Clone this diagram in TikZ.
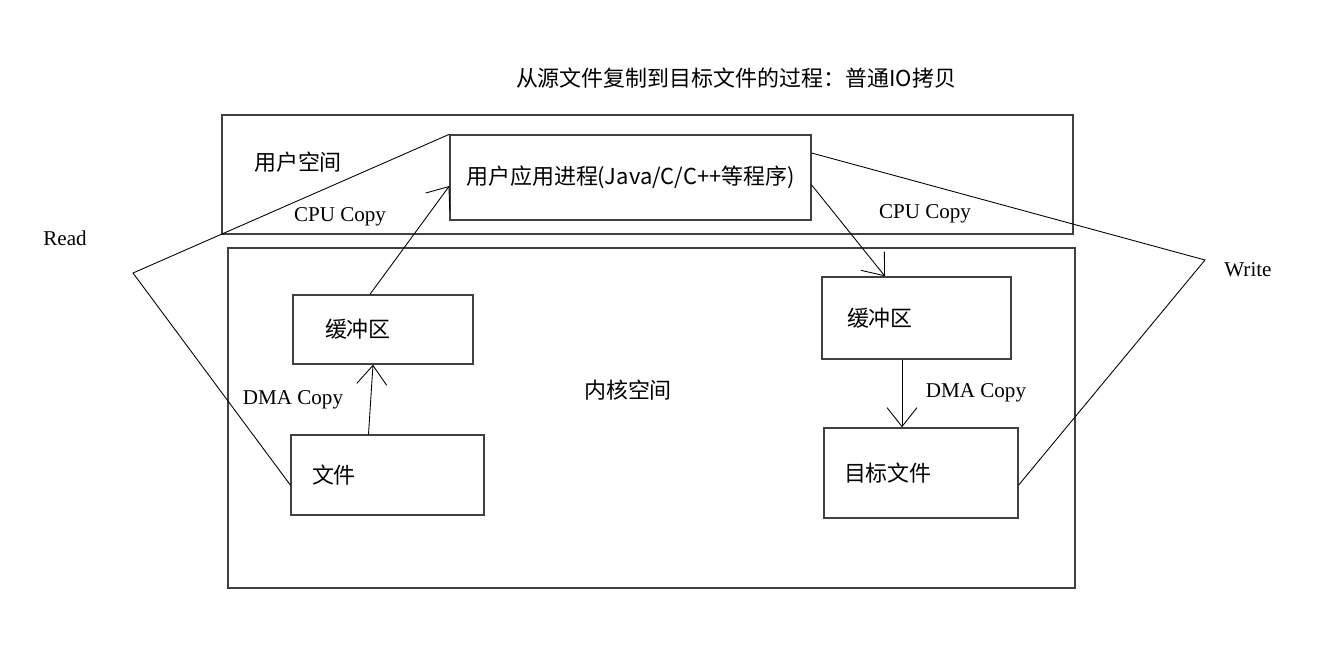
\documentclass[tikz,border=0pt]{standalone}
\usepackage{fontspec}
\setmainfont{Liberation Serif}
\newfontfamily\cjk{Noto Sans CJK SC}
\usetikzlibrary{arrows.meta}
\tikzset{
	box/.style={draw=black!75, line width=0.8pt, inner ysep=0pt, font=\cjk\fontsize{12.5}{15}\selectfont},
	lbl/.style={font=\fontsize{12}{14}\selectfont, inner sep=0pt},
	cjklbl/.style={font=\cjk\fontsize{12.5}{15}\selectfont, inner sep=0pt},
	flow/.style={line width=0.5pt, -{Straight Barb[length=0.38cm,width=0.6cm]}},
	fan/.style={line width=0.5pt}
}

\begin{document}
\begin{tikzpicture}[x=0.02cm,y=-0.02cm]
				%%%%% START %%%%%
				\def\pad{0.42cm}
				\useasboundingbox (0,0) rectangle (1336,670);

				\node[cjklbl] (title) at (736,78) {从源文件复制到目标文件的过程：普通IO拷贝};

				% user and kernel space
				\node[box, minimum width=17.02cm, minimum height=2.38cm] (user) at (647.5,174.5) {};
				\node[cjklbl] (usertxt) at (298,162) {用户空间};
				\node[box, minimum width=16.94cm, minimum height=6.8cm] (kernel) at (651.5,418) {};
				\node[cjklbl] (kerneltxt) at (628,390) {内核空间};

				\node[box, fill=white, minimum width=7.22cm, minimum height=1.7cm] (app) at (630.5,177.5) {用户应用进程(Java/C/C++等程序)};

				% read side
				\node[box, minimum height=1.38cm, text width=3.6cm-1.28cm, inner xsep=0.64cm, align=left] (bufin) at (383,329.5) {缓冲区};
				\node[box, minimum height=1.6cm, text width=3.86cm-2*\pad, inner xsep=\pad, align=left] (src) at (387.5,475) {文件};

				% write side
				\node[box, minimum height=1.64cm, text width=3.78cm-1cm, inner xsep=0.5cm, align=left] (bufout) at (916.5,318) {缓冲区};
				\node[box, minimum height=1.8cm, text width=3.88cm-0.8cm, inner xsep=0.4cm, align=left] (dst) at (921,473) {目标文件};

				\draw[flow] ([xshift=-0.38cm]src.north) -- ([xshift=-0.2cm]bufin.south);
				\draw[flow] ([xshift=-0.26cm]bufin.north) -- ([yshift=-0.17cm]app.west);
				\draw[flow] ([yshift=-0.15cm]app.east) -- ([xshift=-0.63cm]bufout.north);
				\draw[flow] ([xshift=-0.29cm]bufout.south) -- ([xshift=-0.29cm]bufout.south |- dst.north);

				\coordinate (readtip) at (133,273);
				\coordinate (writetip) at (1205,260);
				\draw[fan] (app.north west) -- (readtip) -- ([yshift=-0.2cm]src.west);
				\draw[fan] ([yshift=0.49cm]app.east) -- (writetip) -- ([yshift=-0.24cm]dst.east);

				\node[lbl] (read) at (65,238) {Read};
				\node[lbl] (write) at (1248,270) {Write};
				\node[lbl] (cpuin) at (340,217) {CPU Copy};
				\node[lbl] (cpuout) at (925,214) {CPU Copy};
				\node[lbl] (dmain) at (293,400) {DMA Copy};
				\node[lbl] (dmaout) at (976,393) {DMA Copy};
				%%%%% START %%%%%
\end{tikzpicture}
\end{document}
